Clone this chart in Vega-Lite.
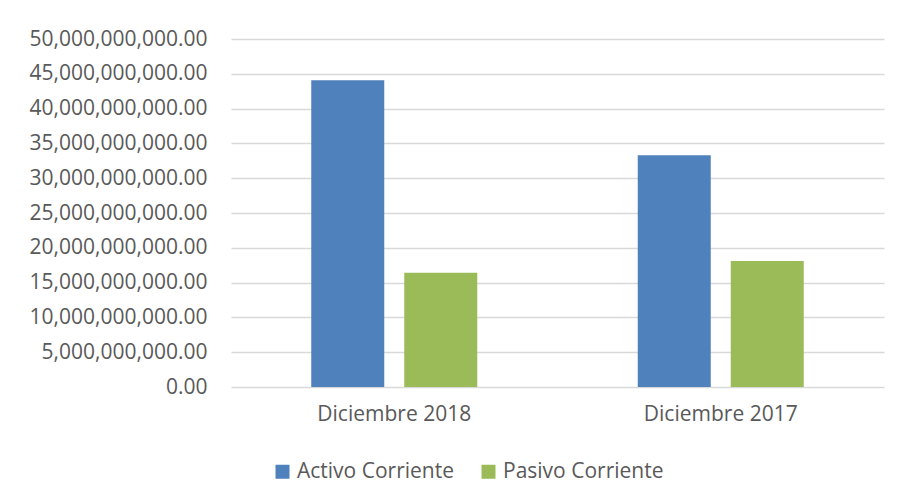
{
  "$schema": "https://vega.github.io/schema/vega-lite/v6.json",
  "width": 653,
  "height": 348,
  "autosize": {"type": "none"},
  "padding": {"left": 231, "top": 39, "right": 18, "bottom": 117},
  "background": "white",
  "config": {
    "view": {"stroke": null},
    "font": "Open Sans"
  },
  "data": {
    "values": [
      {"periodo": "Diciembre 2018", "serie": "Activo Corriente", "valor": 44070000000},
      {"periodo": "Diciembre 2018", "serie": "Pasivo Corriente", "valor": 16420000000},
      {"periodo": "Diciembre 2017", "serie": "Activo Corriente", "valor": 33290000000},
      {"periodo": "Diciembre 2017", "serie": "Pasivo Corriente", "valor": 18100000000}
    ]
  },
  "mark": {"type": "bar"},
  "encoding": {
    "x": {
      "field": "periodo",
      "type": "nominal",
      "sort": ["Diciembre 2018", "Diciembre 2017"],
      "scale": {"paddingInner": 0, "paddingOuter": 0},
      "axis": {
        "title": null,
        "labelAngle": 0,
        "labelFont": "Open Sans",
        "labelFontSize": 21,
        "labelColor": "#595959",
        "labelPadding": 16,
        "ticks": false,
        "domain": false,
        "grid": false
      }
    },
    "xOffset": {
      "field": "serie",
      "type": "nominal",
      "sort": ["Activo Corriente", "Pasivo Corriente"],
      "scale": {"paddingInner": 0.215, "paddingOuter": 0.863}
    },
    "y": {
      "field": "valor",
      "type": "quantitative",
      "scale": {"domain": [0, 50000000000], "nice": false},
      "axis": {
        "title": null,
        "values": [0, 5000000000, 10000000000, 15000000000, 20000000000, 25000000000, 30000000000, 35000000000, 40000000000, 45000000000, 50000000000],
        "format": ",.2f",
        "labelFont": "Open Sans",
        "labelFontSize": 21,
        "labelColor": "#595959",
        "labelPadding": 24,
        "ticks": false,
        "domain": false,
        "grid": true,
        "gridColor": "#d9d9d9",
        "gridWidth": 1.5
      }
    },
    "color": {
      "field": "serie",
      "type": "nominal",
      "sort": ["Activo Corriente", "Pasivo Corriente"],
      "scale": {"domain": ["Activo Corriente", "Pasivo Corriente"], "range": ["#4F81BD", "#9BBB59"]},
      "legend": {
        "title": null,
        "orient": "none",
        "direction": "horizontal",
        "legendX": 41,
        "legendY": 422,
        "symbolType": "square",
        "symbolSize": 196,
        "symbolStrokeWidth": 0,
        "symbolOpacity": 1,
        "labelFont": "Open Sans",
        "labelFontSize": 21,
        "labelColor": "#595959",
        "labelOffset": 4,
        "columnPadding": 24,
        "labelLimit": 300
      }
    }
  }
}
